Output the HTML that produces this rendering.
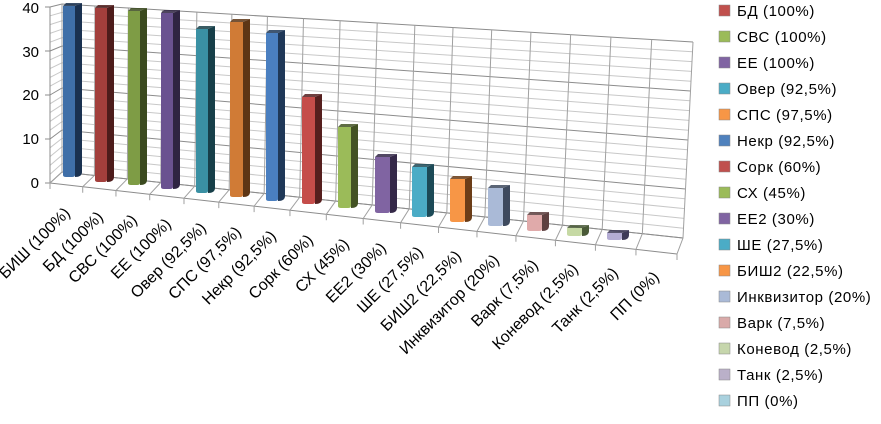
<!DOCTYPE html>
<html><head><meta charset="utf-8"><style>
body{margin:0;background:#fff;width:881px;height:424px;overflow:hidden}
svg{display:block}
text{font-family:"Liberation Sans",sans-serif;font-size:14px;fill:#000}
#xl text{font-size:16px}
#leg text{font-size:15px;letter-spacing:0.6px}
</style></head><body>
<svg id="s" width="881" height="424" viewBox="0 0 881 424">
<g id="grid" stroke="#a6a6a6" stroke-width="1" fill="none"></g>
<g id="bars"></g>
<g style="font-size:15px">
<text x="39" y="188" text-anchor="end" style="font-size:15px">0</text>
<text x="39" y="144" text-anchor="end" style="font-size:15px">10</text>
<text x="39" y="100" text-anchor="end" style="font-size:15px">20</text>
<text x="39" y="57" text-anchor="end" style="font-size:15px">30</text>
<text x="39" y="13" text-anchor="end" style="font-size:15px">40</text>
</g>
<g id="xl">
<text transform="translate(71,214) rotate(-45)" text-anchor="end">БИШ (100%)</text>
<text transform="translate(104,218) rotate(-45)" text-anchor="end">БД (100%)</text>
<text transform="translate(138,221) rotate(-45)" text-anchor="end">СВС (100%)</text>
<text transform="translate(172,225) rotate(-45)" text-anchor="end">ЕЕ (100%)</text>
<text transform="translate(207,229) rotate(-45)" text-anchor="end">Овер (92,5%)</text>
<text transform="translate(242,233) rotate(-45)" text-anchor="end">СПС (97,5%)</text>
<text transform="translate(277,237) rotate(-45)" text-anchor="end">Некр (92,5%)</text>
<text transform="translate(314,241) rotate(-45)" text-anchor="end">Сорк (60%)</text>
<text transform="translate(350,245) rotate(-45)" text-anchor="end">СХ (45%)</text>
<text transform="translate(387,249) rotate(-45)" text-anchor="end">ЕЕ2 (30%)</text>
<text transform="translate(424,253) rotate(-45)" text-anchor="end">ШЕ (27,5%)</text>
<text transform="translate(462,257) rotate(-45)" text-anchor="end">БИШ2 (22,5%)</text>
<text transform="translate(500,261) rotate(-45)" text-anchor="end">Инквизитор (20%)</text>
<text transform="translate(539,266) rotate(-45)" text-anchor="end">Варк (7,5%)</text>
<text transform="translate(579,270) rotate(-45)" text-anchor="end">Коневод (2,5%)</text>
<text transform="translate(619,274) rotate(-45)" text-anchor="end">Танк (2,5%)</text>
<text transform="translate(660,278) rotate(-45)" text-anchor="end">ПП (0%)</text>
</g>
<g id="leg">
<rect x="719" y="5" width="11" height="11" fill="#C0504D" stroke="#888" stroke-width=".5"/><text x="737" y="16">БД (100%)</text>
<rect x="719" y="31" width="11" height="11" fill="#9BBB59" stroke="#888" stroke-width=".5"/><text x="737" y="42">СВС (100%)</text>
<rect x="719" y="57" width="11" height="11" fill="#8064A2" stroke="#888" stroke-width=".5"/><text x="737" y="68">ЕЕ (100%)</text>
<rect x="719" y="83" width="11" height="11" fill="#4BACC6" stroke="#888" stroke-width=".5"/><text x="737" y="94">Овер (92,5%)</text>
<rect x="719" y="109" width="11" height="11" fill="#F79646" stroke="#888" stroke-width=".5"/><text x="737" y="120">СПС (97,5%)</text>
<rect x="719" y="135" width="11" height="11" fill="#4F81BD" stroke="#888" stroke-width=".5"/><text x="737" y="146">Некр (92,5%)</text>
<rect x="719" y="161" width="11" height="11" fill="#C0504D" stroke="#888" stroke-width=".5"/><text x="737" y="172">Сорк (60%)</text>
<rect x="719" y="187" width="11" height="11" fill="#9BBB59" stroke="#888" stroke-width=".5"/><text x="737" y="198">СХ (45%)</text>
<rect x="719" y="213" width="11" height="11" fill="#8064A2" stroke="#888" stroke-width=".5"/><text x="737" y="224">ЕЕ2 (30%)</text>
<rect x="719" y="239" width="11" height="11" fill="#4BACC6" stroke="#888" stroke-width=".5"/><text x="737" y="250">ШЕ (27,5%)</text>
<rect x="719" y="265" width="11" height="11" fill="#F79646" stroke="#888" stroke-width=".5"/><text x="737" y="276">БИШ2 (22,5%)</text>
<rect x="719" y="291" width="11" height="11" fill="#AABAD7" stroke="#888" stroke-width=".5"/><text x="737" y="302">Инквизитор (20%)</text>
<rect x="719" y="317" width="11" height="11" fill="#D9AAA9" stroke="#888" stroke-width=".5"/><text x="737" y="328">Варк (7,5%)</text>
<rect x="719" y="343" width="11" height="11" fill="#C6D6AC" stroke="#888" stroke-width=".5"/><text x="737" y="354">Коневод (2,5%)</text>
<rect x="719" y="369" width="11" height="11" fill="#BAB0C9" stroke="#888" stroke-width=".5"/><text x="737" y="380">Танк (2,5%)</text>
<rect x="719" y="395" width="11" height="11" fill="#A9D1DE" stroke="#888" stroke-width=".5"/><text x="737" y="406">ПП (0%)</text>
</g>
</svg>
<script>
var NS="http://www.w3.org/2000/svg";
function el(p,t,a){var e=document.createElementNS(NS,t);for(var k in a)e.setAttribute(k,a[k]);p.appendChild(e);return e;}
var g=document.getElementById("grid");
var BL=[62,172],TL=[62,4],BR=[683,238],TR=[693,42];
function lerp(a,b,t){return [a[0]+(b[0]-a[0])*t,a[1]+(b[1]-a[1])*t];}
for(var v=0;v<=40;v+=2){
  var t=v/40,L=lerp(BL,TL,t),R=lerp(BR,TR,t);
  var sy=183-v*4.4;
  var c=(v%10==0)?"#8c8c8c":"#c8c8c8";
  el(g,"path",{d:"M50 "+sy+"L"+L[0]+" "+L[1]+"L"+R[0]+" "+R[1],stroke:c});
}
el(g,"path",{d:"M50 183L50 7",stroke:"#8c8c8c"});
for(var v=0;v<=40;v+=10){el(g,"path",{d:"M45 "+(183-v*4.4)+"L50 "+(183-v*4.4),stroke:"#8c8c8c"});}
var FL=[50,183],FR=[677,254];
el(g,"path",{d:"M50 183L677 254",stroke:"#8c8c8c"});
el(g,"path",{d:"M62 172L683 238",stroke:"#8c8c8c"});
var n=17;
function frac(i){var u=i/n;return u*0.88+u*u*0.12;}
for(var i=0;i<=n;i++){
  var f=frac(i);
  var b=lerp(BL,BR,f),tp=lerp(TL,TR,f),fr=lerp(FL,FR,f);
  el(g,"path",{d:"M"+tp[0]+" "+tp[1]+"L"+b[0]+" "+b[1]+"L"+fr[0]+" "+fr[1]+"L"+fr[0]+" "+(fr[1]+6),stroke:"#a0a0a0"});
}
var bars=[
[63,12,6,177,"#3F6FA8","#1a3150"],
[95,12,8,182,"#A33F3C","#4d1c1b"],
[128,12,11,185,"#7E9C45","#3b4a1f"],
[161,12,13,189,"#6A5290","#2f2442"],
[196,12,29,193,"#3A90A3","#173f49"],
[230,13,22,197,"#D07B36","#5e3615"],
[266,12,33,201,"#4A7FC0","#1f3858"],
[302,13,97,204,"#C54D4A","#551f1e"],
[338,13,127,208,"#9BBB59","#435224"],
[375,15,157,213,"#8064A2","#342848"],
[412,15,167,217,"#4BACC6","#1c4a57"],
[450,15,179,222,"#F79646","#6b3d18"],
[488,15,188,226,"#AABAD7","#3e4a5e"],
[527,15,215,231,"#E0AAAA","#5e4040"],
[567,15,228,236,"#C6D9A4","#4a5a38"],
[607,15,233,240,"#B4ACD4","#3e3a58"]
];
var bg=document.getElementById("bars");
bars.forEach(function(b){
  var x=b[0],w=b[1],t=b[2],bt=b[3],c=b[4],d=b[5],sw=7,dy=3;
  el(bg,"path",{d:"M"+(x+w)+" "+t+"L"+(x+w+sw)+" "+(t-dy)+"L"+(x+w+sw)+" "+(bt-dy-2)+"Q"+(x+w+sw)+" "+(bt)+" "+(x+w)+" "+(bt)+"Z",fill:d});
  el(bg,"path",{d:"M"+x+" "+t+"L"+(x+w)+" "+t+"L"+(x+w)+" "+(bt-2)+"Q"+(x+w)+" "+bt+" "+(x+w-3)+" "+bt+"L"+(x+3)+" "+bt+"Q"+x+" "+bt+" "+x+" "+(bt-2)+"Z",fill:c});
  el(bg,"path",{d:"M"+x+" "+t+"L"+(x+3)+" "+(t-dy)+"L"+(x+w+sw)+" "+(t-dy)+"L"+(x+w)+" "+t+"Z",fill:d,opacity:"0.85"});
});
</script>
</body></html>
